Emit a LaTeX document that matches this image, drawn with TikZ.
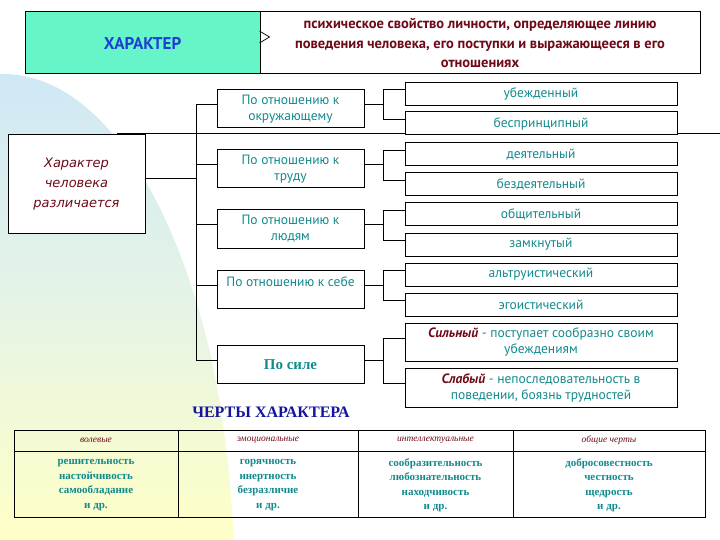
\documentclass[tikz,border=0pt]{standalone}
\usepackage{fontspec}
\setmainfont{PT Sans}
\newfontfamily\serifru{Liberation Serif}
\newfontfamily\dejavu{DejaVu Sans}
\usetikzlibrary{calc}
\definecolor{tealc}{HTML}{138A8C}
\definecolor{darkred}{HTML}{6E0A18}
\definecolor{topgreen}{HTML}{66F5C8}
\definecolor{khblue}{HTML}{1F3FD4}
\definecolor{chblue}{HTML}{1414A0}
\definecolor{bgblue}{HTML}{CFE8F6}
\definecolor{bgyellow}{HTML}{FFFFC6}
\definecolor{bgmid}{HTML}{E6F4E6}
\begin{document}
\begin{tikzpicture}[x=1pt,y=-1pt,
  box/.style={draw=black, fill=white, line width=1pt, inner sep=1pt, align=center},
  midbox/.style={box, minimum width=147pt, minimum height=38pt, text=tealc, font=\fontsize{13.5}{16}\selectfont},
  rbox/.style={box, minimum width=272pt, minimum height=23pt, text=tealc, font=\fontsize{13.5}{16}\selectfont},
  link/.style={draw=black, line width=1pt},
  thead/.style={text=darkred, font=\serifru\itshape\fontsize{9.5}{11}\selectfont},
  tbody/.style={text=tealc, align=center, font=\serifru\bfseries\fontsize{11}{14.5}\selectfont}]
\useasboundingbox (0,0) rectangle (720,540);
% background decoration
\shade[top color=bgblue, bottom color=bgyellow, middle color=bgmid, draw=none]
  (0,74) .. controls (100,72) and (172,200) .. (207,340) .. controls (222,400) and (230,470) .. (234,540) -- (0,540) -- cycle;
% top definition
\node[draw=black, line width=1pt, fill=topgreen, minimum width=235pt, minimum height=62pt, text=khblue, font=\bfseries\fontsize{17}{20}\selectfont] (kh) at (142.5,43) {ХАРАКТЕР};
\node[draw=black, line width=1pt, fill=white, minimum width=440pt, minimum height=62pt, align=center, text=darkred, font=\bfseries\fontsize{14.5}{19.5}\selectfont] (def) at (480,43) {психическое свойство личности, определяющее линию\\поведения человека, его поступки и выражающееся в его\\отношениях};
\draw[line width=0.7pt] ([yshift=12pt]def.west) -- ([xshift=10pt,yshift=6pt]def.west) -- (def.west);
% decorative line
\draw[link] (117,134) -- (720,134);
% left box
\node[box, minimum width=137pt, minimum height=98pt, text=darkred, font=\dejavu\itshape\fontsize{13}{20}\selectfont] (lb) at (76.5,184) {Характер\\человека\\различается};
% middle boxes
\node[midbox] (m1) at (290.5,109) {По отношению к\\окружающему};
\node[midbox] (m2) at (290.5,169) {По отношению к\\труду};
\node[midbox] (m3) at (290.5,229) {По отношению к\\людям};
\node[midbox] (m4) at (290.5,289.5) {По отношению к себе\\\mbox{}};
\node[midbox, font=\serifru\bfseries\fontsize{15}{17}\selectfont] (m5) at (290.5,364.5) {По силе};
% right boxes
\node[rbox] (a1) at (541,94) {убежденный};
\node[rbox] (b1) at (541,123.5) {беспринципный};
\node[rbox] (a2) at (541,154.5) {деятельный};
\node[rbox] (b2) at (541,184.5) {бездеятельный};
\node[rbox] (a3) at (541,214.5) {общительный};
\node[rbox] (b3) at (541,244.5) {замкнутый};
\node[rbox] (a4) at (541,274.5) {альтруистический};
\node[rbox] (b4) at (541,304.5) {эгоистический};
\node[rbox, minimum height=38pt] (a5) at (541,342) {\textcolor{darkred}{\textit{\textbf{Сильный}}} - поступает сообразно своим\\убеждениям};
\node[rbox, minimum height=39pt] (b5) at (541,387.5) {\textcolor{darkred}{\textit{\textbf{Слабый}}} - непоследовательность в\\поведении, боязнь трудностей};
% connectors
\coordinate (tx) at (196,0);
\coordinate (rx) at (383,0);
\draw[link] ([yshift=5pt]lb.east) -- ([yshift=5pt]lb.east -| tx);
\draw[link] ([yshift=4pt]m1.west -| tx) -- ([yshift=4pt]m5.west -| tx);
\foreach \i in {1,...,5}{
  \draw[link] ([yshift=4pt]m\i.west) -- ([yshift=4pt]m\i.west -| tx);
  \draw[link] ([yshift=4pt]m\i.east) -- ([yshift=4pt]m\i.east -| rx);
  \draw[link] ([yshift=4pt]a\i.west) -| ([yshift=4pt]b\i.west -| rx) -- ([yshift=4pt]b\i.west);
}
% traits title
\node[text=chblue, font=\serifru\bfseries\fontsize{16}{18}\selectfont] (ch) at (271,412) {ЧЕРТЫ ХАРАКТЕРА};
% table
\draw[line width=1pt] (14,430) rectangle (705,517);
\draw[line width=1pt] (14,451) -- (705,451);
\draw[line width=1pt] (178,430) -- (178,517);
\draw[line width=1pt] (358,430) -- (358,517);
\draw[line width=1pt] (513,430) -- (513,517);
\node[thead] (h1) at (96,440.5) {волевые};
\node[thead] (h2) at (268,440.5) {эмоциональные};
\node[thead] (h3) at (435.5,440.5) {интеллектуальные};
\node[thead] (h4) at (609,440.5) {общие черты};
\node[tbody] (c1) at (96,485) {решительность\\настойчивость\\самообладание\\и др.};
\node[tbody] (c2) at (268,485) {горячность\\инертность\\безразличие\\и др.};
\node[tbody] (c3) at (435.5,485) {сообразительность\\любознательность\\находчивость\\и др.};
\node[tbody] (c4) at (609,485) {добросовестность\\честность\\щедрость\\и др.};
\end{tikzpicture}
\end{document}
